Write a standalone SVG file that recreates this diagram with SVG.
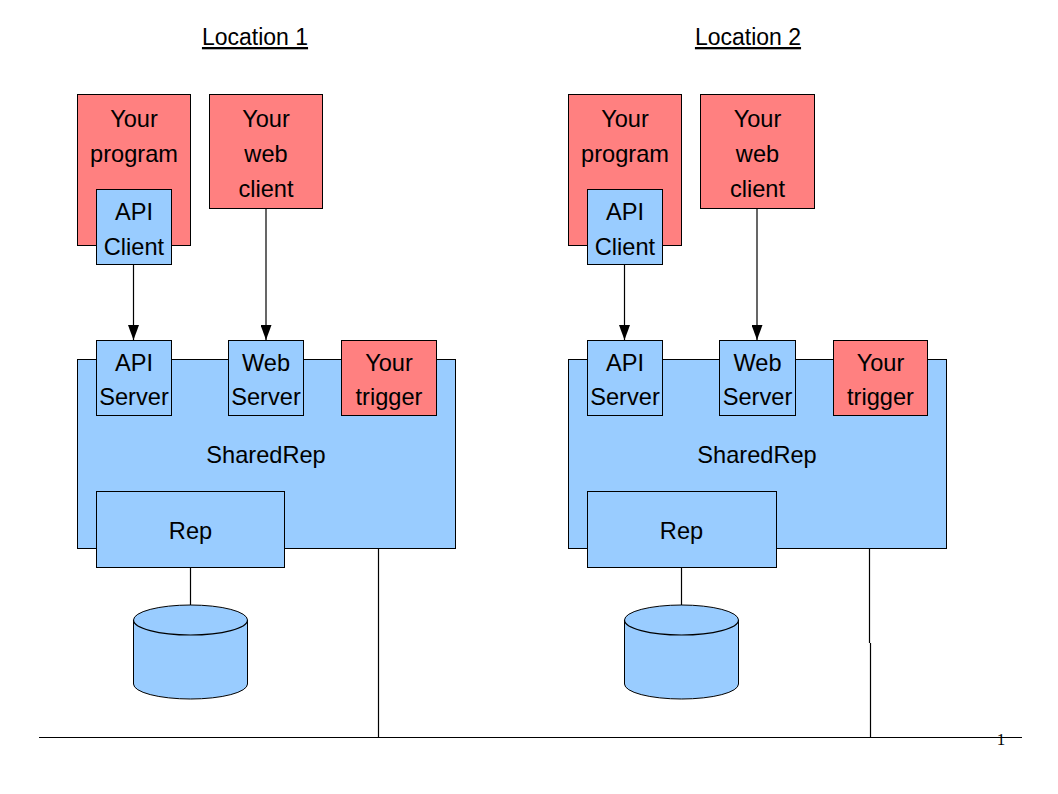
<svg xmlns="http://www.w3.org/2000/svg" width="1058" height="794" viewBox="0 0 1058 794">
<defs>
<style>
.red{fill:#ff8080;stroke:#000;stroke-width:1}
.blue{fill:#99ccff;stroke:#000;stroke-width:1}
.t{font-family:"Liberation Sans",Arial,sans-serif;font-size:23.6px;fill:#000;text-anchor:middle}
.title{font-family:"Liberation Sans",Arial,sans-serif;font-size:23px;fill:#000;text-anchor:middle;text-decoration:underline}
.ln{stroke:#000;stroke-width:1.2;fill:none}
</style>
<marker id="arr" markerWidth="16" markerHeight="11" refX="15" refY="5.5" orient="auto" markerUnits="userSpaceOnUse" viewBox="0 0 16 11">
<path d="M0,0 L15,5.5 L0,11 Z" fill="#000"/>
</marker>
<g id="cyl">
<path class="blue" d="M133.5,620 A57,15 0 0 1 247.5,620 L247.5,684 A57,15 0 0 1 133.5,684 Z"/>
<path class="ln" d="M133.5,620 A57,15 0 0 0 247.5,620" stroke-width="1"/>
</g>
</defs>
<rect width="1058" height="794" fill="#fff"/>

<text class="title" x="255" y="45">Location 1</text>
<text class="title" x="748" y="45">Location 2</text>

<g id="connectors">
<line class="ln" x1="133.5" y1="264" x2="133.5" y2="340" marker-end="url(#arr)"/>
<line class="ln" x1="266" y1="208" x2="266" y2="340" marker-end="url(#arr)"/>
<line class="ln" x1="624.5" y1="264" x2="624.5" y2="340" marker-end="url(#arr)"/>
<line class="ln" x1="757" y1="208" x2="757" y2="340" marker-end="url(#arr)"/>
<line class="ln" x1="190.5" y1="567" x2="190.5" y2="605"/>
<line class="ln" x1="681.5" y1="567" x2="681.5" y2="605"/>
<line class="ln" x1="378.5" y1="548" x2="378.5" y2="737.5"/>
<line class="ln" x1="869.5" y1="548" x2="869.5" y2="643"/>
<line class="ln" x1="870.5" y1="643" x2="870.5" y2="737.5"/>
<line class="ln" x1="39" y1="737.5" x2="1022" y2="737.5"/>
</g>

<!-- Location 1 -->
<g id="program1">
<rect class="red" x="77.5" y="94.5" width="113" height="151"/>
<text class="t" x="134" y="127">Your</text>
<text class="t" x="134" y="162">program</text>
</g>
<g id="apiclient1">
<rect class="blue" x="96.5" y="189.5" width="75" height="75"/>
<text class="t" x="134" y="220">API</text>
<text class="t" x="134" y="255">Client</text>
</g>
<g id="webclient1">
<rect class="red" x="209.5" y="94.5" width="113" height="114"/>
<text class="t" x="266" y="127">Your</text>
<text class="t" x="266" y="162">web</text>
<text class="t" x="266" y="197">client</text>
</g>
<g id="sharedrep1">
<rect class="blue" x="77.5" y="359.5" width="378" height="189"/>
<text class="t" x="266" y="463">SharedRep</text>
</g>
<g id="apiserver1">
<rect class="blue" x="96.5" y="340.5" width="75" height="75"/>
<text class="t" x="134" y="371">API</text>
<text class="t" x="134" y="405">Server</text>
</g>
<g id="webserver1">
<rect class="blue" x="228.5" y="340.5" width="75" height="75"/>
<text class="t" x="266" y="371">Web</text>
<text class="t" x="266" y="405">Server</text>
</g>
<g id="trigger1">
<rect class="red" x="341.5" y="340.5" width="95" height="75"/>
<text class="t" x="389" y="371">Your</text>
<text class="t" x="389" y="405">trigger</text>
</g>
<g id="rep1">
<rect class="blue" x="96.5" y="491.5" width="188" height="76"/>
<text class="t" x="190.5" y="539">Rep</text>
</g>
<g id="db1">
<use href="#cyl"/>
</g>

<!-- Location 2 -->
<g id="program2">
<rect class="red" x="568.5" y="94.5" width="113" height="151"/>
<text class="t" x="625" y="127">Your</text>
<text class="t" x="625" y="162">program</text>
</g>
<g id="apiclient2">
<rect class="blue" x="587.5" y="189.5" width="75" height="75"/>
<text class="t" x="625" y="220">API</text>
<text class="t" x="625" y="255">Client</text>
</g>
<g id="webclient2">
<rect class="red" x="700.5" y="94.5" width="114" height="114"/>
<text class="t" x="757.5" y="127">Your</text>
<text class="t" x="757.5" y="162">web</text>
<text class="t" x="757.5" y="197">client</text>
</g>
<g id="sharedrep2">
<rect class="blue" x="568.5" y="359.5" width="378" height="189"/>
<text class="t" x="757" y="463">SharedRep</text>
</g>
<g id="apiserver2">
<rect class="blue" x="587.5" y="340.5" width="75" height="75"/>
<text class="t" x="625" y="371">API</text>
<text class="t" x="625" y="405">Server</text>
</g>
<g id="webserver2">
<rect class="blue" x="719.5" y="340.5" width="76" height="75"/>
<text class="t" x="757.5" y="371">Web</text>
<text class="t" x="757.5" y="405">Server</text>
</g>
<g id="trigger2">
<rect class="red" x="833.5" y="340.5" width="94" height="75"/>
<text class="t" x="880.5" y="371">Your</text>
<text class="t" x="880.5" y="405">trigger</text>
</g>
<g id="rep2">
<rect class="blue" x="587.5" y="491.5" width="189" height="76"/>
<text class="t" x="681.5" y="539">Rep</text>
</g>
<g id="db2">
<use href="#cyl" x="491"/>
</g>

<text x="1001" y="745" font-family="'Liberation Serif','Times New Roman',serif" font-size="17" text-anchor="middle" fill="#000">1</text>
</svg>
